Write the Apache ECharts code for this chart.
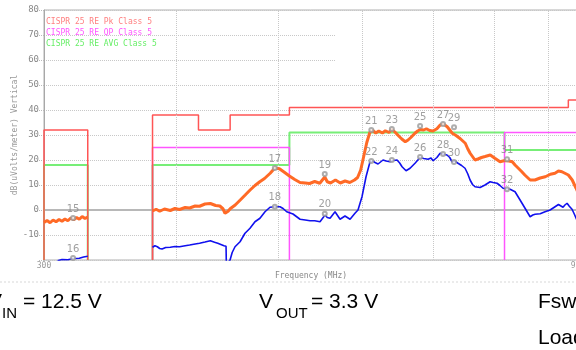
<!DOCTYPE html>
<html><head><meta charset="utf-8">
<script src="https://cdn.jsdelivr.net/npm/echarts@6/dist/echarts.min.js"></script>
<style>html,body{margin:0;padding:0;background:#fff}#c{width:576px;height:350px}</style>
</head><body><div id="c"></div>
<script>
// ---- data (frequency MHz, level dBuV/m) ----
const xRange = [300, 960];
const yTicks = [-20, -10, 0, 10, 20, 30, 40, 50, 60, 70, 80];
const freqGrid = [400, 500, 600, 700, 800, 900];

const pkLimit = [[300,-20],[300,32],[330,32],[330,-20],[355,'-'],[380,-20],[380,38],[420,38],[420,32],[450,32],[450,38],[512,38],[512,41],[940,41],[940,44],[960,44]];
const qpLimit = [[380,-20],[380,25],[512,25],[512,-20],[700,'-'],[818,-20],[818,31],[960,31]];
const avgLimit = [[300,-20],[300,18],[330,18],[330,-20],[355,'-'],[380,-20],[380,18],[512,18],[512,31],[818,31],[818,24],[960,24]];

const peakTrace = [
[300,-5.0],[302,-4.2],[304,-5.1],[306,-4.0],[308,-4.7],[310,-3.8],[312,-4.5],[314,-3.6],[316,-4.3],[318,-3.2],[320,-3.9],[322,-3.0],[324,-3.7],[326,-2.6],[328,-3.4],[330,-2.8],
[355,'-'],
[380,-0.4],[383,0.3],[386,-0.5],[390,0.4],[395,-0.2],[399,0.6],[403,0.2],[408,1.0],[412,0.8],[417,1.6],[421,1.5],[426,2.4],[431,2.6],[436,1.8],[440,1.6],[443,0.5],[445,-1.3],[448,-0.5],[450,0.5],
[455,2.0],[460,4.0],[465,6.0],[470,8.0],[475,9.8],[480,11.3],[485,12.6],[491,14.7],[496,16.8],[501,16.5],[506,15.2],[512,13.6],[518,12.2],[524,11.0],[530,10.8],[535,10.6],[541,11.4],[547,10.7],
[553,13.2],[556,11.3],[560,10.8],[566,12.0],[572,10.8],[578,11.6],[584,11.0],[590,12.0],[594,13.0],[598,16.0],[602,21.5],[606,27.0],[610,31.0],[614,31.8],[618,30.8],[622,31.6],[627,30.8],
[631,31.7],[636,31.0],[640,32.3],[645,31.0],[650,29.5],[654,28.4],[659,27.3],[663,28.0],[667,29.0],[673,30.7],[677,31.6],[681,32.2],[686,32.0],[690,32.5],[695,31.8],[700,31.6],[703,30.8],
[706,32.5],[711,34.0],[716,34.4],[722,33.3],[726,32.0],[730,30.7],[736,29.8],[743,28.5],[751,26.7],[755,24.5],[759,22.7],[767,20.0],[772,20.4],[778,21.0],[784,21.4],[793,22.0],[801,20.7],
[810,19.3],[819,19.8],[826,19.6],[832,19.3],[837,18.0],[843,16.7],[849,15.4],[855,14.0],[865,12.0],[874,12.0],[884,12.8],[894,13.3],[904,14.3],[913,14.7],[920,15.6],[927,15.3],[933,14.7],
[940,14.0],[948,12.0],[956,8.7],[960,7.0]
];

const avgTrace = [
[309,-20.3],[312,-19.8],[316,-19.9],[320,-19.4],[324,-19.3],[327,-18.8],[330,-18.5],
[355,'-'],
[380,-14.9],[382,-14.3],[384,-14.7],[386,-15.4],[388,-15.6],[391,-15.0],[395,-14.9],[399,-14.6],[403,-14.7],[408,-14.3],[412,-14.0],[417,-13.6],[421,-13.3],[426,-12.8],[431,-12.3],
[435,-12.9],[438,-13.3],[444,-14.3],[446,-14.5],[446.3,-22],[447.5,-22],[449.9,-20],[452,-17],[454.8,-14.7],[459.8,-12.7],[464.8,-9.3],[469.9,-7.3],[475,-4.7],[480.2,-3.3],[485.5,-0.7],
[490.8,1.1],[496.2,1.3],[501.6,1.3],[505,0.6],[509,-0.7],[516,-1.6],[524,-3.7],[530,-4.0],[535.5,-4.3],[541,-4.3],[547.3,-4.7],[553.3,-2.0],[556,-3.0],[559.4,-3.3],[565.5,-0.7],
[571.7,-3.7],[577.9,-2.4],[584.3,-3.7],[590.6,-1.3],[594.5,0.0],[599.7,5.3],[605,13.3],[610.3,19.3],[614,19.6],[617,19.0],[621,18.4],[627.8,20.0],[632,19.6],[637.5,19.3],[642,19.8],
[647.3,20.0],[651,18.8],[654.4,17.3],[660.1,15.7],[665.9,16.7],[673.1,18.7],[680.6,21.0],[686,20.6],[692.5,20.3],[697,20.8],[700.1,19.7],[701.6,19.3],[706,21.0],[710.9,22.7],[715,22.4],
[721.7,22.0],[726,21.0],[729.6,19.3],[734,19.6],[739.2,18.7],[745,17.8],[750.6,16.7],[755,14.5],[758.9,12.0],[763,10.2],[767.1,9.3],[775.6,9.0],[784,10.0],[792.7,11.3],[798,11.0],
[804.8,10.7],[810,9.8],[815.4,8.7],[822,8.5],[828,8.3],[837,7.3],[846.2,4.0],[855.4,0.7],[864.9,-2.7],[870,-2.0],[874.3,-1.7],[884,-1.5],[893.5,-0.7],[903.4,0.0],[913.2,1.3],[920,2.2],
[923.3,2.7],[929.2,1.1],[933,2.0],[937.4,2.7],[942,1.5],[947.6,0.3],[952,-1.5],[956,-3.3],[960,-5.0]
];

const markerNames  = ['15','16','17','18','19','20','21','22','23','24','25','26','27','28','29','30','31','32'];
const markerFreqs  = [319.6,319.6,496,496,553,553,612,612,640,640,680.6,680.6,715.5,715.5,732.8,732.8,822.5,822.5];
const markerLevels = [-3.2,-19.2,16.8,1.3,14.4,-1.5,32.0,19.6,32.4,20.0,33.6,21.2,34.4,22.4,33.1,19.2,20.3,8.3];

const legendNames = ['CISPR 25 RE Pk Class 5','CISPR 25 RE QP Class 5','CISPR 25 RE AVG Class 5'];
const legendColors = ['#ff8080','#ff55ff','#66ee66'];

// ---- chart ----
const chart = echarts.init(document.getElementById('c'), null, {renderer:'canvas'});
const mono = 'DejaVu Sans Mono';
const markerData = markerNames.map((n,i)=>({name:n, value:[markerFreqs[i], markerLevels[i]]}));

chart.setOption({
  animation:false,
  backgroundColor:'#fff',
  grid:{left:44, top:10, width:534, height:250, outerBoundsMode:'none', containLabel:false,
        show:true, borderColor:'#b0b0b0', borderWidth:1, backgroundColor:'transparent'},
  legend:{
    orient:'vertical', left:41, top:18, itemGap:3, padding:0, icon:'none', itemWidth:0, itemHeight:8,
    selectedMode:false,
    textStyle:{fontFamily:mono, fontSize:8, padding:0},
    data: legendNames.map((n,i)=>({name:n, textStyle:{color:legendColors[i]}}))
  },
  xAxis:{
    type:'log', logBase:10, min:xRange[0], max:xRange[1],
    name:'Frequency (MHz)', nameLocation:'middle', nameGap:12, nameMoveOverlap:false,
    nameTextStyle:{fontFamily:mono, fontSize:8, color:'#888'},
    axisLine:{show:true, lineStyle:{color:'#b8b8b8', width:2}},
    axisTick:{show:false},
    splitLine:{show:false},
    axisLabel:{show:true, interval:0, showMinLabel:true, showMaxLabel:true, margin:2,
      fontFamily:mono, fontSize:8, color:'#999',
      formatter:(v)=> (Math.abs(v-xRange[0])<0.5 || Math.abs(v-xRange[1])<0.5) ? String(Math.round(v)) : ''}
  },
  yAxis:{
    type:'value', min:yTicks[0], max:yTicks[yTicks.length-1], interval:10,
    name:'dB(uVolts/meter) Vertical', nameLocation:'middle', nameGap:25, nameRotate:90, nameMoveOverlap:false,
    nameTextStyle:{fontFamily:mono, fontSize:8, color:'#999'},
    axisLine:{show:true, lineStyle:{color:'#a8a8a8', width:1}},
    axisTick:{show:true, length:5, lineStyle:{color:'#bbb', type:'dotted'}},
    axisLabel:{margin:5, fontFamily:mono, fontSize:9, color:'#888',
      formatter:(v)=> v===yTicks[0] ? '' : String(v)},
    splitLine:{show:true, lineStyle:{color:'#c8c8c8', type:'dotted', width:1}}
  },
  graphic:[
    {type:'rect', shape:{x:336, y:11, width:240, height:70}, style:{fill:'#fff'}, z:3, silent:true},
    {type:'line', shape:{x1:0, y1:282, x2:576, y2:282}, style:{stroke:'#d8d8d8', lineDash:[2,2], lineWidth:1}, silent:true},
    {type:'text', left:-12, top:292, style:{text:'V', font:'21px "Liberation Sans"', fill:'#000'}},
    {type:'text', left:2, top:306, style:{text:'IN', font:'15px "Liberation Sans"', fill:'#000'}},
    {type:'text', left:23, top:292, style:{text:'= 12.5 V', font:'21px "Liberation Sans"', fill:'#000'}},
    {type:'text', left:259, top:292, style:{text:'V', font:'21px "Liberation Sans"', fill:'#000'}},
    {type:'text', left:276, top:306, style:{text:'OUT', font:'15px "Liberation Sans"', fill:'#000'}},
    {type:'text', left:311, top:292, style:{text:'= 3.3 V', font:'21px "Liberation Sans"', fill:'#000'}},
    {type:'text', left:538, top:292, style:{text:'Fsw', font:'21px "Liberation Sans"', fill:'#000'}},
    {type:'text', left:538, top:328, style:{text:'Load', font:'21px "Liberation Sans"', fill:'#000'}}
  ],
  series:[
    {type:'line', name:'grid', data:[], silent:true, z:1,
     markLine:{silent:true, symbol:['none','none'], label:{show:false},
       lineStyle:{color:'#c8c8c8', type:'dotted', width:1},
       data: freqGrid.map(f=>({xAxis:f}))}},
    {type:'line', name:legendNames[2], data:avgLimit, showSymbol:false, symbol:'none', z:4,
     lineStyle:{color:'#77ee77', width:2}, itemStyle:{color:'#77ee77'}},
    {type:'line', name:legendNames[1], data:qpLimit, showSymbol:false, symbol:'none', z:4,
     lineStyle:{color:'#ff55ff', width:1.5}, itemStyle:{color:'#ff55ff'}},
    {type:'line', name:legendNames[0], data:pkLimit, showSymbol:false, symbol:'none', z:4,
     lineStyle:{color:'#ff5555', width:1.5}, itemStyle:{color:'#ff5555'}},
    {type:'line', name:'Peak', data:peakTrace, showSymbol:false, symbol:'none', z:5,
     lineStyle:{color:'#ff6a26', width:3}},
    {type:'line', name:'Average', data:avgTrace, showSymbol:false, symbol:'none', z:5,
     lineStyle:{color:'#1010ee', width:1.6}},
    {type:'scatter', name:'markers', data:markerData, symbol:'emptyCircle', symbolSize:4, z:6,
     itemStyle:{color:'#999', borderColor:'#999', borderWidth:1},
     label:{show:true, position:'top', distance:1, formatter:(p)=>p.name,
       fontFamily:'DejaVu Sans', fontSize:10, color:'#888'}}
  ]
});
</script></body></html>
